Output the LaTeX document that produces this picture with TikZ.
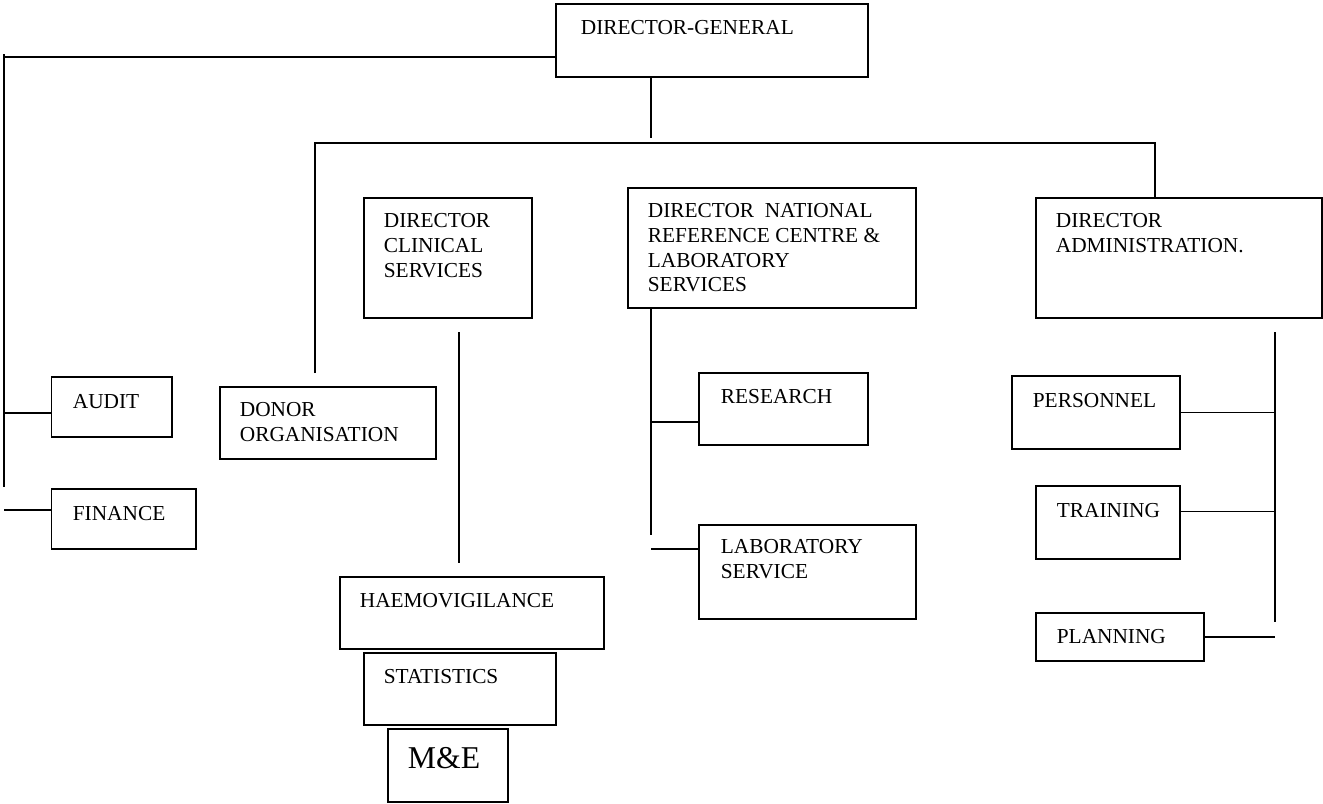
\documentclass[tikz,border=0pt]{standalone}
\usepackage{fontspec}
\setmainfont{Liberation Serif}

\tikzset{every picture/.style={line width=1.3pt}}
\tikzset{
  unitbox/.style 2 args={draw, rectangle, inner sep=0pt, anchor=north west,
    minimum width=#1*0.75pt, minimum height=#2*0.75pt},
  unittxt/.style={anchor=north west, inner sep=0pt, align=left,
    font=\fontsize{16}{18.4}\selectfont},
}

\begin{document}
\begin{tikzpicture}[x=0.75pt,y=0.75pt,yscale=-1,xscale=1]
\useasboundingbox (0,0) rectangle (1323,803);

%Shape: Rectangle
\node[unitbox={312}{73}] (dg) at (555,3) {};
%Shape: Rectangle
\node[unitbox={168}{120}] (cli) at (363,197) {};
%Shape: Rectangle
\node[unitbox={288}{120}] (nrc) at (627,187) {};
%Shape: Rectangle
\node[unitbox={286}{120}] (adm) at (1035,197) {};
%Shape: Rectangle
\node[unitbox={120.5}{60}] (aud) at (50.5,376) {};
%Shape: Rectangle
\node[unitbox={144.5}{60}] (fin) at (50.5,488) {};
%Shape: Rectangle
\node[unitbox={216}{72}] (don) at (219,386) {};
%Shape: Rectangle
\node[unitbox={264}{72}] (hae) at (339,576) {};
%Shape: Rectangle
\node[unitbox={192}{72}] (sta) at (363,652) {};
%Shape: Rectangle
\node[unitbox={120}{73}] (mne) at (387,728) {};
%Shape: Rectangle
\node[unitbox={169}{72}] (res) at (698,372) {};
%Shape: Rectangle
\node[unitbox={217}{94}] (lab) at (698,524) {};
%Shape: Rectangle
\node[unitbox={168}{73}] (per) at (1011,375) {};
%Shape: Rectangle
\node[unitbox={144}{73}] (tra) at (1035,485) {};
%Shape: Rectangle
\node[unitbox={168}{48}] (pla) at (1035,612) {};

%Straight Lines
\coordinate (lft) at (4,54);
\coordinate (lftend) at (4,487);
\coordinate (dgc) at ([shift={(0,54)}]dg.north west);
\draw (dgc) -- (dgc -| lft);
\draw (lft) -- (lftend);
\coordinate (audc) at ([shift={(0,6)}]aud.west);
\draw (audc) -- (audc -| lft);
\coordinate (finc) at ([shift={(0,-9)}]fin.west);
\draw (finc) -- (finc -| lft);
%Straight Lines
\coordinate (bus) at (651,143);
\draw (bus |- dg.south) -- ([shift={(0,-5)}]bus);
\coordinate (donup) at (315,373);
\coordinate (admup) at (1155,197);
\draw (donup) -- (donup |- bus) -- (admup |- bus) -- (admup |- adm.north);
%Straight Lines
\coordinate (clitop) at (459,332);
\coordinate (clibot) at (459,563);
\draw (clitop) -- (clibot);
%Straight Lines
\coordinate (nrcbot) at (651,535);
\draw (nrcbot |- nrc.south) -- (nrcbot);
\coordinate (resc) at ([shift={(0,13)}]res.west);
\draw (resc) -- (resc -| nrcbot);
\coordinate (labc) at ([shift={(0,-23)}]lab.west);
\draw (labc) -- (labc -| nrcbot);
%Straight Lines
\coordinate (admtop) at (1275,332);
\coordinate (admbot) at (1275,622);
\draw (admtop) -- (admbot);
\draw (per.east) -- (per.east -| admtop);
\coordinate (trac) at ([shift={(0,-11)}]tra.east);
\draw (trac) -- (trac -| admtop);
\draw (pla.east) -- (pla.east -| admtop);

% Text Node
\node[unittxt] (dg-t) at ([shift={(25,17)}]dg.north west) {DIRECTOR-GENERAL};
% Text Node
\node[unittxt] (cli-t) at ([shift={(20,16)}]cli.north west) {DIRECTOR\\CLINICAL\\SERVICES};
% Text Node
\node[unittxt] (nrc-t) at ([shift={(20,16)}]nrc.north west) {DIRECTOR~ NATIONAL\\REFERENCE CENTRE \&\\LABORATORY\\SERVICES};
% Text Node
\node[unittxt] (adm-t) at ([shift={(20,16)}]adm.north west) {DIRECTOR\\ADMINISTRATION.};
% Text Node
\node[unittxt] (aud-t) at ([shift={(21.5,17.5)}]aud.north west) {AUDIT};
% Text Node
\node[unittxt] (fin-t) at ([shift={(21.5,17.5)}]fin.north west) {FINANCE};
% Text Node
\node[unittxt] (don-t) at ([shift={(20,16)}]don.north west) {DONOR\\ORGANISATION};
% Text Node
\node[unittxt] (hae-t) at ([shift={(20,16.5)}]hae.north west) {HAEMOVIGILANCE};
% Text Node
\node[unittxt] (sta-t) at ([shift={(20,16.5)}]sta.north west) {STATISTICS};
% Text Node
\node[unittxt, font=\fontsize{23.8}{27}\selectfont] (mne-t) at ([shift={(20,18.5)}]mne.north west) {M\&E};
% Text Node
\node[unittxt] (res-t) at ([shift={(22,16.5)}]res.north west) {RESEARCH};
% Text Node
\node[unittxt] (lab-t) at ([shift={(22,14.5)}]lab.north west) {LABORATORY\\SERVICE};
% Text Node
\node[unittxt] (per-t) at ([shift={(21,17.5)}]per.north west) {PERSONNEL};
% Text Node
\node[unittxt] (tra-t) at ([shift={(21,17.5)}]tra.north west) {TRAINING};
% Text Node
\node[unittxt] (pla-t) at ([shift={(21,16.5)}]pla.north west) {PLANNING};

\end{tikzpicture}
\end{document}
